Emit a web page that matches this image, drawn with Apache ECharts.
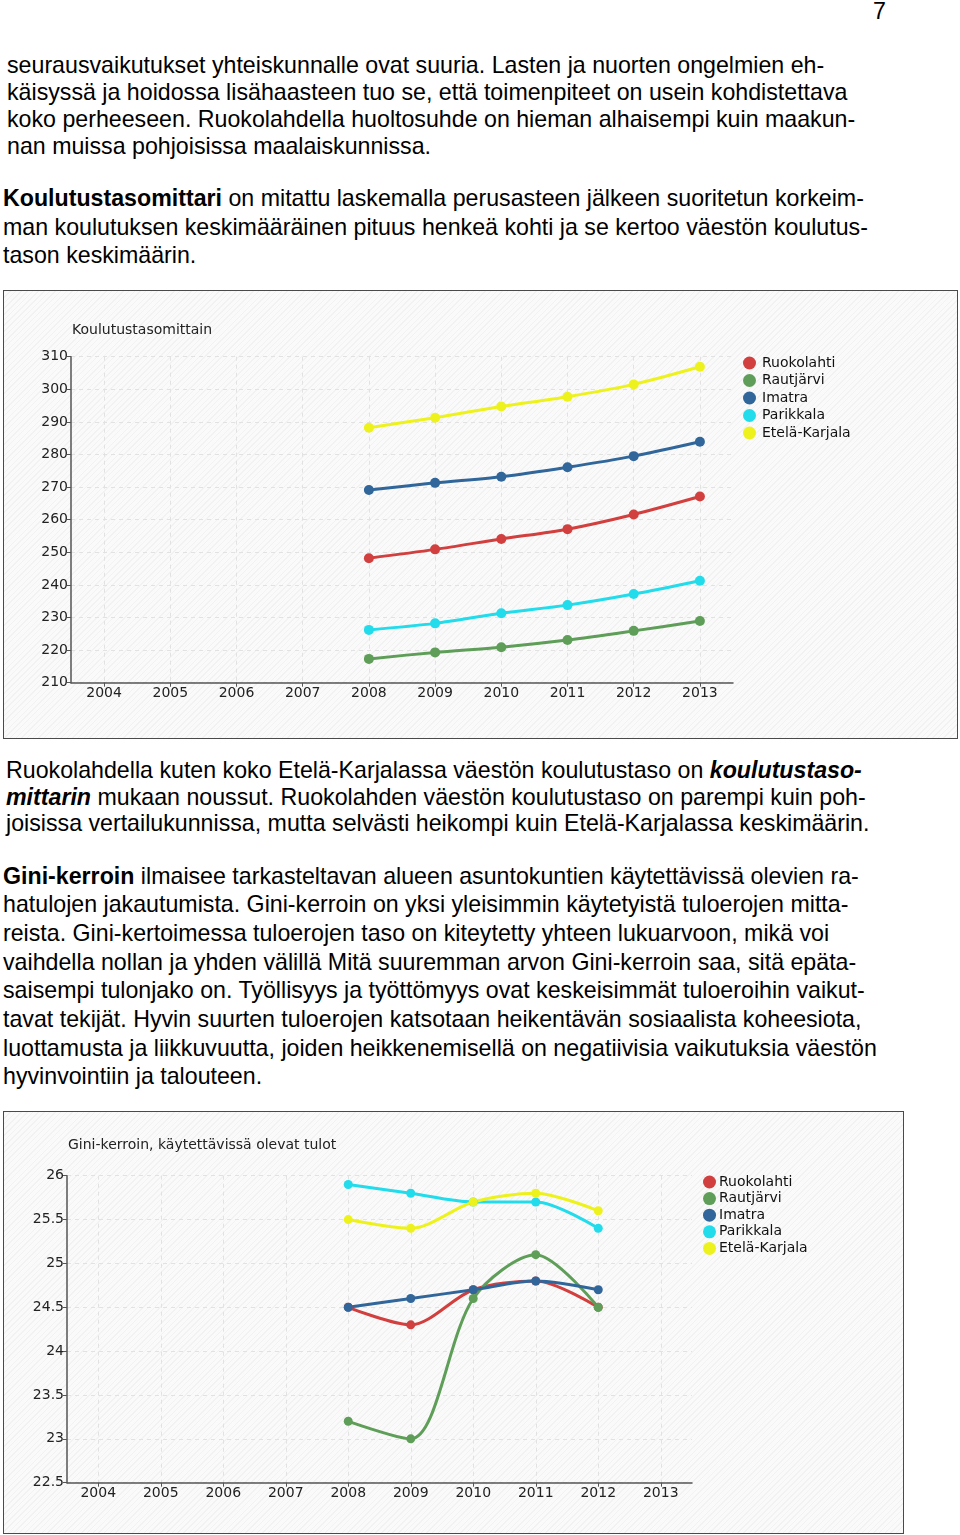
<!DOCTYPE html>
<html>
<head>
<meta charset="utf-8">
<script src="https://cdn.jsdelivr.net/npm/echarts@6/dist/echarts.min.js"></script>
<style>
  html, body { margin: 0; padding: 0; background: #fff; }
  body { width: 960px; height: 1535px; position: relative; overflow: hidden;
         font-family: "Liberation Sans", Arial, sans-serif; color: #000; }
  .p { position: absolute; font-size: 23.2px; white-space: nowrap; }
  .box { position: absolute; border: 1px solid #4a4a4a; box-sizing: border-box;
         background: repeating-linear-gradient(135deg, #f2f2f2 0px, #f2f2f2 1px, #fafafa 1px, #fafafa 4px); }
  .chart { position: absolute; }
</style>
</head>
<body>
<div class="p" style="left:873px; top:-2px; line-height:27px;">7</div>

<div class="p" style="left:7px; top:52.3px; line-height:26.8px;">
seurausvaikutukset yhteiskunnalle ovat suuria. Lasten ja nuorten ongelmien eh-<br>
käisyssä ja hoidossa lisähaasteen tuo se, että toimenpiteet on usein kohdistettava<br>
koko perheeseen. Ruokolahdella huoltosuhde on hieman alhaisempi kuin maakun-<br>
nan muissa pohjoisissa maalaiskunnissa.
</div>

<div class="p" style="left:3px; top:184.4px; line-height:28.3px;">
<b>Koulutustasomittari</b> on mitattu laskemalla perusasteen jälkeen suoritetun korkeim-<br>
man koulutuksen keskimääräinen pituus henkeä kohti ja se kertoo väestön koulutus-<br>
tason keskimäärin.
</div>

<div class="box" style="left:3px; top:290px; width:955px; height:449px;"></div>
<div id="c1" class="chart" style="left:4px; top:291px; width:953px; height:447px;"></div>

<div class="p" style="left:6px; top:756.8px; line-height:26.7px;">
Ruokolahdella kuten koko Etelä-Karjalassa väestön koulutustaso on <b><i>koulutustaso-</i></b><br>
<b><i>mittarin</i></b> mukaan noussut. Ruokolahden väestön koulutustaso on parempi kuin poh-<br>
joisissa vertailukunnissa, mutta selvästi heikompi kuin Etelä-Karjalassa keskimäärin.
</div>

<div class="p" style="left:3px; top:861.5px; line-height:28.7px;">
<b>Gini-kerroin</b> ilmaisee tarkasteltavan alueen asuntokuntien käytettävissä olevien ra-<br>
hatulojen jakautumista. Gini-kerroin on yksi yleisimmin käytetyistä tuloerojen mitta-<br>
reista. Gini-kertoimessa tuloerojen taso on kiteytetty yhteen lukuarvoon, mikä voi<br>
vaihdella nollan ja yhden välillä Mitä suuremman arvon Gini-kerroin saa, sitä epäta-<br>
saisempi tulonjako on. Työllisyys ja työttömyys ovat keskeisimmät tuloeroihin vaikut-<br>
tavat tekijät. Hyvin suurten tuloerojen katsotaan heikentävän sosiaalista koheesiota,<br>
luottamusta ja liikkuvuutta, joiden heikkenemisellä on negatiivisia vaikutuksia väestön<br>
hyvinvointiin ja talouteen.
</div>

<div class="box" style="left:3px; top:1111px; width:901px; height:423px;"></div>
<div id="c2" class="chart" style="left:4px; top:1112px; width:899px; height:421px;"></div>

<script>
// ---- shared ----
const years = ['2004','2005','2006','2007','2008','2009','2010','2011','2012','2013'];
const seriesNames = ['Ruokolahti','Rautjärvi','Imatra','Parikkala','Etelä-Karjala'];
const seriesColors = ['#d23f3f','#5e9e58','#30669a','#22dbeb','#eef21c'];

// ---- chart 1: Koulutustasomittain ----
const edu_Ruokolahti   = [null,null,null,null,248.2,250.9,254.1,257.1,261.6,267.1];
const edu_Rautjarvi    = [null,null,null,null,217.3,219.3,220.9,223.1,225.9,228.9];
const edu_Imatra       = [null,null,null,null,269.1,271.3,273.2,276.1,279.5,283.9];
const edu_Parikkala    = [null,null,null,null,226.2,228.2,231.3,233.8,237.2,241.3];
const edu_EtelaKarjala = [null,null,null,null,288.2,291.3,294.7,297.7,301.5,306.9];

// ---- chart 2: Gini-kerroin ----
const gini_Ruokolahti   = [null,null,null,null,24.5,24.3,24.7,24.8,24.5,null];
const gini_Rautjarvi    = [null,null,null,null,23.2,23.0,24.6,25.1,24.5,null];
const gini_Imatra       = [null,null,null,null,24.5,24.6,24.7,24.8,24.7,null];
const gini_Parikkala    = [null,null,null,null,25.9,25.8,25.7,25.7,25.4,null];
const gini_EtelaKarjala = [null,null,null,null,25.5,25.4,25.7,25.8,25.6,null];

const FONT = 'DejaVu Sans';

function makeOption(cfg) {
  return {
    animation: false,
    backgroundColor: 'transparent',
    title: {
      text: cfg.title, left: cfg.titleLeft, top: cfg.titleTop, padding: 0,
      textStyle: { fontFamily: FONT, fontSize: 14, fontWeight: 'normal', color: '#222' }
    },
    legend: {
      orient: 'vertical', left: cfg.legendLeft, top: cfg.legendTop, padding: 0,
      itemGap: cfg.legendGap, itemWidth: 13, itemHeight: 13, icon: 'circle',
      textStyle: { fontFamily: FONT, fontSize: 14, color: '#111', padding: [0,0,0,cfg.legendTextPad] },
      data: seriesNames
    },
    grid: { left: cfg.gridLeft, top: cfg.gridTop, width: cfg.gridWidth, height: cfg.gridHeight, containLabel: false },
    xAxis: {
      type: 'category', data: years, boundaryGap: true,
      axisLine: { lineStyle: { color: '#555', width: 1.5 } },
      axisTick: { show: true, alignWithLabel: true, length: 4, lineStyle: { color: '#555' } },
      axisLabel: { fontFamily: FONT, fontSize: 14, color: '#222', margin: 4 },
      splitLine: { show: true, alignWithLabel: true, lineStyle: { color: '#e2e2e2', type: [4,4], width: 1 } }
    },
    yAxis: {
      type: 'value', min: cfg.yMin, max: cfg.yMax, interval: cfg.yInterval,
      axisLine: { show: true, lineStyle: { color: '#555', width: 1.5 } },
      axisTick: { show: true, length: 4, lineStyle: { color: '#555' } },
      axisLabel: { fontFamily: FONT, fontSize: 14, color: '#222', margin: 3 },
      splitLine: { show: true, lineStyle: { color: '#e2e2e2', type: [4,4], width: 1 } }
    },
    series: cfg.data.map((d, i) => ({
      name: seriesNames[i], type: 'line', data: d, smooth: cfg.smooth,
      symbol: 'circle', symbolSize: cfg.symbolSize, connectNulls: false,
      lineStyle: { width: 3, color: seriesColors[i] },
      itemStyle: { color: seriesColors[i], borderWidth: 0 }
    }))
  };
}

const c1 = echarts.init(document.getElementById('c1'));
c1.setOption(makeOption({
  title: 'Koulutustasomittain', titleLeft: 68, titleTop: 32,
  legendLeft: 739, legendTop: 65, legendGap: 3.5, legendTextPad: 1,
  gridLeft: 67, gridTop: 65.7, gridWidth: 662, gridHeight: 326,
  yMin: 210, yMax: 310, yInterval: 10, smooth: 0.3, symbolSize: 10,
  data: [edu_Ruokolahti, edu_Rautjarvi, edu_Imatra, edu_Parikkala, edu_EtelaKarjala]
}));

const c2 = echarts.init(document.getElementById('c2'));
c2.setOption(makeOption({
  title: 'Gini-kerroin, käytettävissä olevat tulot', titleLeft: 64, titleTop: 26,
  legendLeft: 699, legendTop: 63, legendGap: 2.6, legendTextPad: -2,
  gridLeft: 63, gridTop: 63.7, gridWidth: 625, gridHeight: 307,
  yMin: 22.5, yMax: 26, yInterval: 0.5, smooth: 0.3, symbolSize: 9,
  data: [gini_Ruokolahti, gini_Rautjarvi, gini_Imatra, gini_Parikkala, gini_EtelaKarjala]
}));
</script>
</body>
</html>
